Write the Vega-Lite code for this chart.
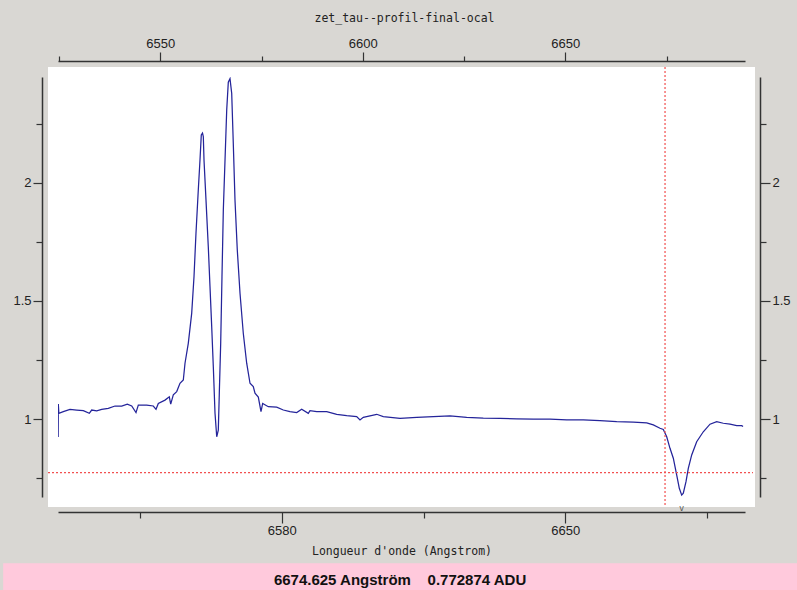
{
  "$schema": "https://vega.github.io/schema/vega-lite/v6.json",
  "background": "#d9d7d3",
  "autosize": {"type": "none"},
  "padding": {"left": 58, "top": 77, "right": 52, "bottom": 93},
  "width": 687,
  "height": 420,
  "view": {"fill": "white", "stroke": "white", "strokeWidth": 20},
  "title": {
    "text": "zet_tau--profil-final-ocal",
    "font": "DejaVu Sans Mono",
    "fontSize": 11.5,
    "fontWeight": "normal",
    "color": "#222222",
    "frame": "group",
    "anchor": "middle",
    "baseline": "alphabetic",
    "offset": 4,
    "dx": 3
  },
  "datasets": {
    "spectrum": [
      {"lambda": 6524.78, "flux": 0.924}, {"lambda": 6524.82, "flux": 1.063}, {"lambda": 6524.95, "flux": 1.024},
      {"lambda": 6526.05, "flux": 1.031}, {"lambda": 6527.70, "flux": 1.041}, {"lambda": 6529.36, "flux": 1.038},
      {"lambda": 6530.99, "flux": 1.035}, {"lambda": 6532.47, "flux": 1.024}, {"lambda": 6533.06, "flux": 1.038},
      {"lambda": 6534.30, "flux": 1.034}, {"lambda": 6535.53, "flux": 1.041}, {"lambda": 6537.16, "flux": 1.045},
      {"lambda": 6538.81, "flux": 1.055}, {"lambda": 6540.47, "flux": 1.055}, {"lambda": 6541.85, "flux": 1.063},
      {"lambda": 6542.94, "flux": 1.055}, {"lambda": 6544.00, "flux": 1.027}, {"lambda": 6544.57, "flux": 1.059},
      {"lambda": 6546.64, "flux": 1.059}, {"lambda": 6548.27, "flux": 1.055}, {"lambda": 6548.94, "flux": 1.041},
      {"lambda": 6549.51, "flux": 1.066}, {"lambda": 6551.16, "flux": 1.080}, {"lambda": 6552.22, "flux": 1.094},
      {"lambda": 6552.57, "flux": 1.063}, {"lambda": 6553.21, "flux": 1.102}, {"lambda": 6554.05, "flux": 1.116},
      {"lambda": 6554.86, "flux": 1.151}, {"lambda": 6555.68, "flux": 1.165}, {"lambda": 6556.10, "flux": 1.236},
      {"lambda": 6556.91, "flux": 1.320}, {"lambda": 6557.75, "flux": 1.447}, {"lambda": 6558.32, "flux": 1.602},
      {"lambda": 6558.81, "flux": 1.786}, {"lambda": 6559.38, "flux": 1.969}, {"lambda": 6559.80, "flux": 2.096},
      {"lambda": 6560.12, "flux": 2.202}, {"lambda": 6560.42, "flux": 2.210}, {"lambda": 6560.62, "flux": 2.195},
      {"lambda": 6560.79, "flux": 2.096}, {"lambda": 6561.28, "flux": 1.927}, {"lambda": 6561.85, "flux": 1.729},
      {"lambda": 6562.27, "flux": 1.560}, {"lambda": 6562.69, "flux": 1.391}, {"lambda": 6563.09, "flux": 1.221},
      {"lambda": 6563.51, "flux": 1.024}, {"lambda": 6563.93, "flux": 0.925}, {"lambda": 6564.32, "flux": 0.953},
      {"lambda": 6564.57, "flux": 1.109}, {"lambda": 6564.91, "flux": 1.320}, {"lambda": 6565.23, "flux": 1.602},
      {"lambda": 6565.56, "flux": 1.884}, {"lambda": 6565.98, "flux": 2.096}, {"lambda": 6566.40, "flux": 2.308},
      {"lambda": 6566.79, "flux": 2.425}, {"lambda": 6567.21, "flux": 2.440}, {"lambda": 6567.63, "flux": 2.378},
      {"lambda": 6568.02, "flux": 2.167}, {"lambda": 6568.44, "flux": 1.927}, {"lambda": 6569.01, "flux": 1.715},
      {"lambda": 6569.68, "flux": 1.532}, {"lambda": 6570.49, "flux": 1.363}, {"lambda": 6571.33, "flux": 1.236},
      {"lambda": 6572.15, "flux": 1.151}, {"lambda": 6572.96, "flux": 1.137}, {"lambda": 6573.38, "flux": 1.109},
      {"lambda": 6574.20, "flux": 1.093}, {"lambda": 6574.86, "flux": 1.031}, {"lambda": 6575.28, "flux": 1.066},
      {"lambda": 6576.67, "flux": 1.052}, {"lambda": 6578.74, "flux": 1.050}, {"lambda": 6580.37, "flux": 1.038},
      {"lambda": 6582.02, "flux": 1.031}, {"lambda": 6583.68, "flux": 1.027}, {"lambda": 6584.91, "flux": 1.041},
      {"lambda": 6586.54, "flux": 1.024}, {"lambda": 6586.96, "flux": 1.035}, {"lambda": 6588.62, "flux": 1.031},
      {"lambda": 6591.09, "flux": 1.031}, {"lambda": 6593.56, "flux": 1.020}, {"lambda": 6596.02, "flux": 1.014},
      {"lambda": 6598.49, "flux": 1.010}, {"lambda": 6599.31, "flux": 0.996}, {"lambda": 6600.12, "flux": 1.007},
      {"lambda": 6603.43, "flux": 1.020}, {"lambda": 6605.06, "flux": 1.010}, {"lambda": 6609.19, "flux": 1.003},
      {"lambda": 6613.31, "flux": 1.007}, {"lambda": 6617.41, "flux": 1.010}, {"lambda": 6621.53, "flux": 1.013},
      {"lambda": 6625.65, "flux": 1.007}, {"lambda": 6629.75, "flux": 1.004}, {"lambda": 6633.88, "flux": 1.003},
      {"lambda": 6638.00, "flux": 1.001}, {"lambda": 6642.10, "flux": 0.999}, {"lambda": 6646.22, "flux": 0.999},
      {"lambda": 6650.35, "flux": 0.996}, {"lambda": 6654.44, "flux": 0.996}, {"lambda": 6658.57, "flux": 0.993},
      {"lambda": 6662.69, "flux": 0.989}, {"lambda": 6666.79, "flux": 0.987}, {"lambda": 6670.10, "flux": 0.984},
      {"lambda": 6671.73, "flux": 0.975}, {"lambda": 6673.38, "flux": 0.961}, {"lambda": 6674.20, "flux": 0.956},
      {"lambda": 6675.04, "flux": 0.925}, {"lambda": 6675.85, "flux": 0.876}, {"lambda": 6676.67, "flux": 0.834},
      {"lambda": 6677.51, "flux": 0.763}, {"lambda": 6678.15, "flux": 0.707}, {"lambda": 6678.74, "flux": 0.678},
      {"lambda": 6679.14, "flux": 0.686}, {"lambda": 6679.80, "flux": 0.735}, {"lambda": 6680.37, "flux": 0.791},
      {"lambda": 6681.21, "flux": 0.848}, {"lambda": 6682.44, "flux": 0.904}, {"lambda": 6684.07, "flux": 0.946},
      {"lambda": 6685.73, "flux": 0.978}, {"lambda": 6687.38, "flux": 0.989}, {"lambda": 6689.01, "flux": 0.982},
      {"lambda": 6690.67, "flux": 0.978}, {"lambda": 6692.32, "flux": 0.972}, {"lambda": 6693.56, "flux": 0.972},
      {"lambda": 6693.88, "flux": 0.968}
    ],
    "cursor": [
      {"lambda": 6674.625, "adu": 0.772874, "readout": "6674.625 Angström\u00a0\u00a0\u00a0 0.772874 ADU"}
    ],
    "lineCentre": [
      {"lambda": 6678.74, "marker": "v"}
    ]
  },
  "layer": [
    {
      "data": {"name": "cursor"},
      "mark": {"type": "rect", "color": "#ffc9dc", "opacity": 1},
      "encoding": {
        "x": {"datum": 6511.2, "type": "quantitative", "scale": {"domain": [6524.74, 6694.37], "nice": false, "zero": false}, "axis": null},
        "x2": {"datum": 6725},
        "y": {"datum": 0.3895, "type": "quantitative", "scale": {"domain": [0.67, 2.447], "nice": false, "zero": false}, "axis": null},
        "y2": {"datum": 0.2}
      }
    },
    {
      "data": {"name": "cursor"},
      "mark": {"type": "text", "font": "Liberation Sans", "fontSize": 15, "fontWeight": "bold", "color": "#111111", "baseline": "middle", "align": "center"},
      "encoding": {
        "x": {"datum": 6609.2, "type": "quantitative", "scale": {"domain": [6524.74, 6694.37], "nice": false, "zero": false}, "axis": null},
        "y": {"datum": 0.3188, "type": "quantitative", "scale": {"domain": [0.67, 2.447], "nice": false, "zero": false}, "axis": null},
        "text": {"field": "readout", "type": "nominal"}
      }
    },
    {
      "data": {"name": "lineCentre"},
      "mark": {"type": "text", "font": "DejaVu Sans", "fontSize": 8, "color": "#555555", "baseline": "middle", "align": "center"},
      "encoding": {
        "x": {"field": "lambda", "type": "quantitative", "scale": {"domain": [6524.74, 6694.37], "nice": false, "zero": false}, "axis": null},
        "y": {"datum": 0.619, "type": "quantitative", "scale": {"domain": [0.67, 2.447], "nice": false, "zero": false}, "axis": null},
        "text": {"field": "marker", "type": "nominal"}
      }
    },
    {
      "data": {"name": "spectrum"},
      "mark": {"type": "line", "color": "#24249a", "strokeWidth": 1.25, "clip": true},
      "encoding": {
        "x": {
          "field": "lambda", "type": "quantitative",
          "scale": {"domain": [6524.74, 6694.37], "nice": false, "zero": false},
          "axis": {
            "orient": "bottom", "offset": 15,
            "values": [6545, 6580, 6615, 6650, 6685],
            "format": "d",
            "labelExpr": "datum.value == 6580 || datum.value == 6650 ? datum.label : ''",
            "tickSize": {"condition": {"test": "datum.value == 6580 || datum.value == 6650", "value": 11}, "value": 6},
            "labelPadding": 1,
            "title": "Longueur d'onde (Angstrom)",
            "titlePadding": 8
          }
        },
        "y": {
          "field": "flux", "type": "quantitative",
          "scale": {"domain": [0.67, 2.447], "nice": false, "zero": false},
          "axis": {
            "orient": "left", "offset": 16,
            "values": [0.75, 1, 1.25, 1.5, 1.75, 2, 2.25],
            "format": "~g",
            "labelExpr": "datum.value == 1 || datum.value == 1.5 || datum.value == 2 ? datum.label : ''",
            "tickSize": {"condition": {"test": "datum.value == 1 || datum.value == 1.5 || datum.value == 2", "value": 9}, "value": 6},
            "labelPadding": 2,
            "title": null
          }
        }
      }
    },
    {
      "data": {"name": "cursor"},
      "mark": {"type": "rule", "color": "#f25050", "strokeDash": [2, 2], "strokeWidth": 1.2},
      "encoding": {
        "x": {
          "field": "lambda", "type": "quantitative",
          "scale": {"domain": [6524.74, 6694.37], "nice": false, "zero": false},
          "axis": {
            "orient": "top", "offset": 16,
            "values": [6525, 6550, 6575, 6600, 6625, 6650, 6675],
            "format": "d",
            "labelExpr": "datum.value % 50 == 0 ? datum.label : ''",
            "tickSize": {"condition": {"test": "datum.value % 50 == 0", "value": 9}, "value": 5},
            "labelPadding": 2,
            "title": null
          }
        },
        "y": {"datum": 2.489, "type": "quantitative", "scale": {"domain": [0.67, 2.447], "nice": false, "zero": false}, "axis": null},
        "y2": {"datum": 0.636}
      }
    },
    {
      "data": {"name": "cursor"},
      "mark": {"type": "rule", "color": "#f25050", "strokeDash": [2, 2], "strokeWidth": 1.2},
      "encoding": {
        "y": {
          "field": "adu", "type": "quantitative",
          "scale": {"domain": [0.67, 2.447], "nice": false, "zero": false},
          "axis": {
            "orient": "right", "offset": 15,
            "values": [0.75, 1, 1.25, 1.5, 1.75, 2, 2.25],
            "format": "~g",
            "labelExpr": "datum.value == 1 || datum.value == 1.5 || datum.value == 2 ? datum.label : ''",
            "tickSize": {"condition": {"test": "datum.value == 1 || datum.value == 1.5 || datum.value == 2", "value": 10}, "value": 6},
            "labelPadding": 2,
            "title": null
          }
        },
        "x": {"datum": 6522.27, "type": "quantitative", "scale": {"domain": [6524.74, 6694.37], "nice": false, "zero": false}, "axis": null},
        "x2": {"datum": 6696.35}
      }
    }
  ],
  "resolve": {"axis": {"x": "independent", "y": "independent"}},
  "config": {
    "axis": {
      "grid": false,
      "labelFont": "Liberation Sans",
      "labelFontSize": 13,
      "labelColor": "#222222",
      "domainColor": "#333333",
      "domainWidth": 1.5,
      "tickColor": "#333333",
      "tickWidth": 1.2,
      "titleFont": "DejaVu Sans Mono",
      "titleFontSize": 11.5,
      "titleFontWeight": "normal",
      "titleColor": "#222222"
    }
  }
}
